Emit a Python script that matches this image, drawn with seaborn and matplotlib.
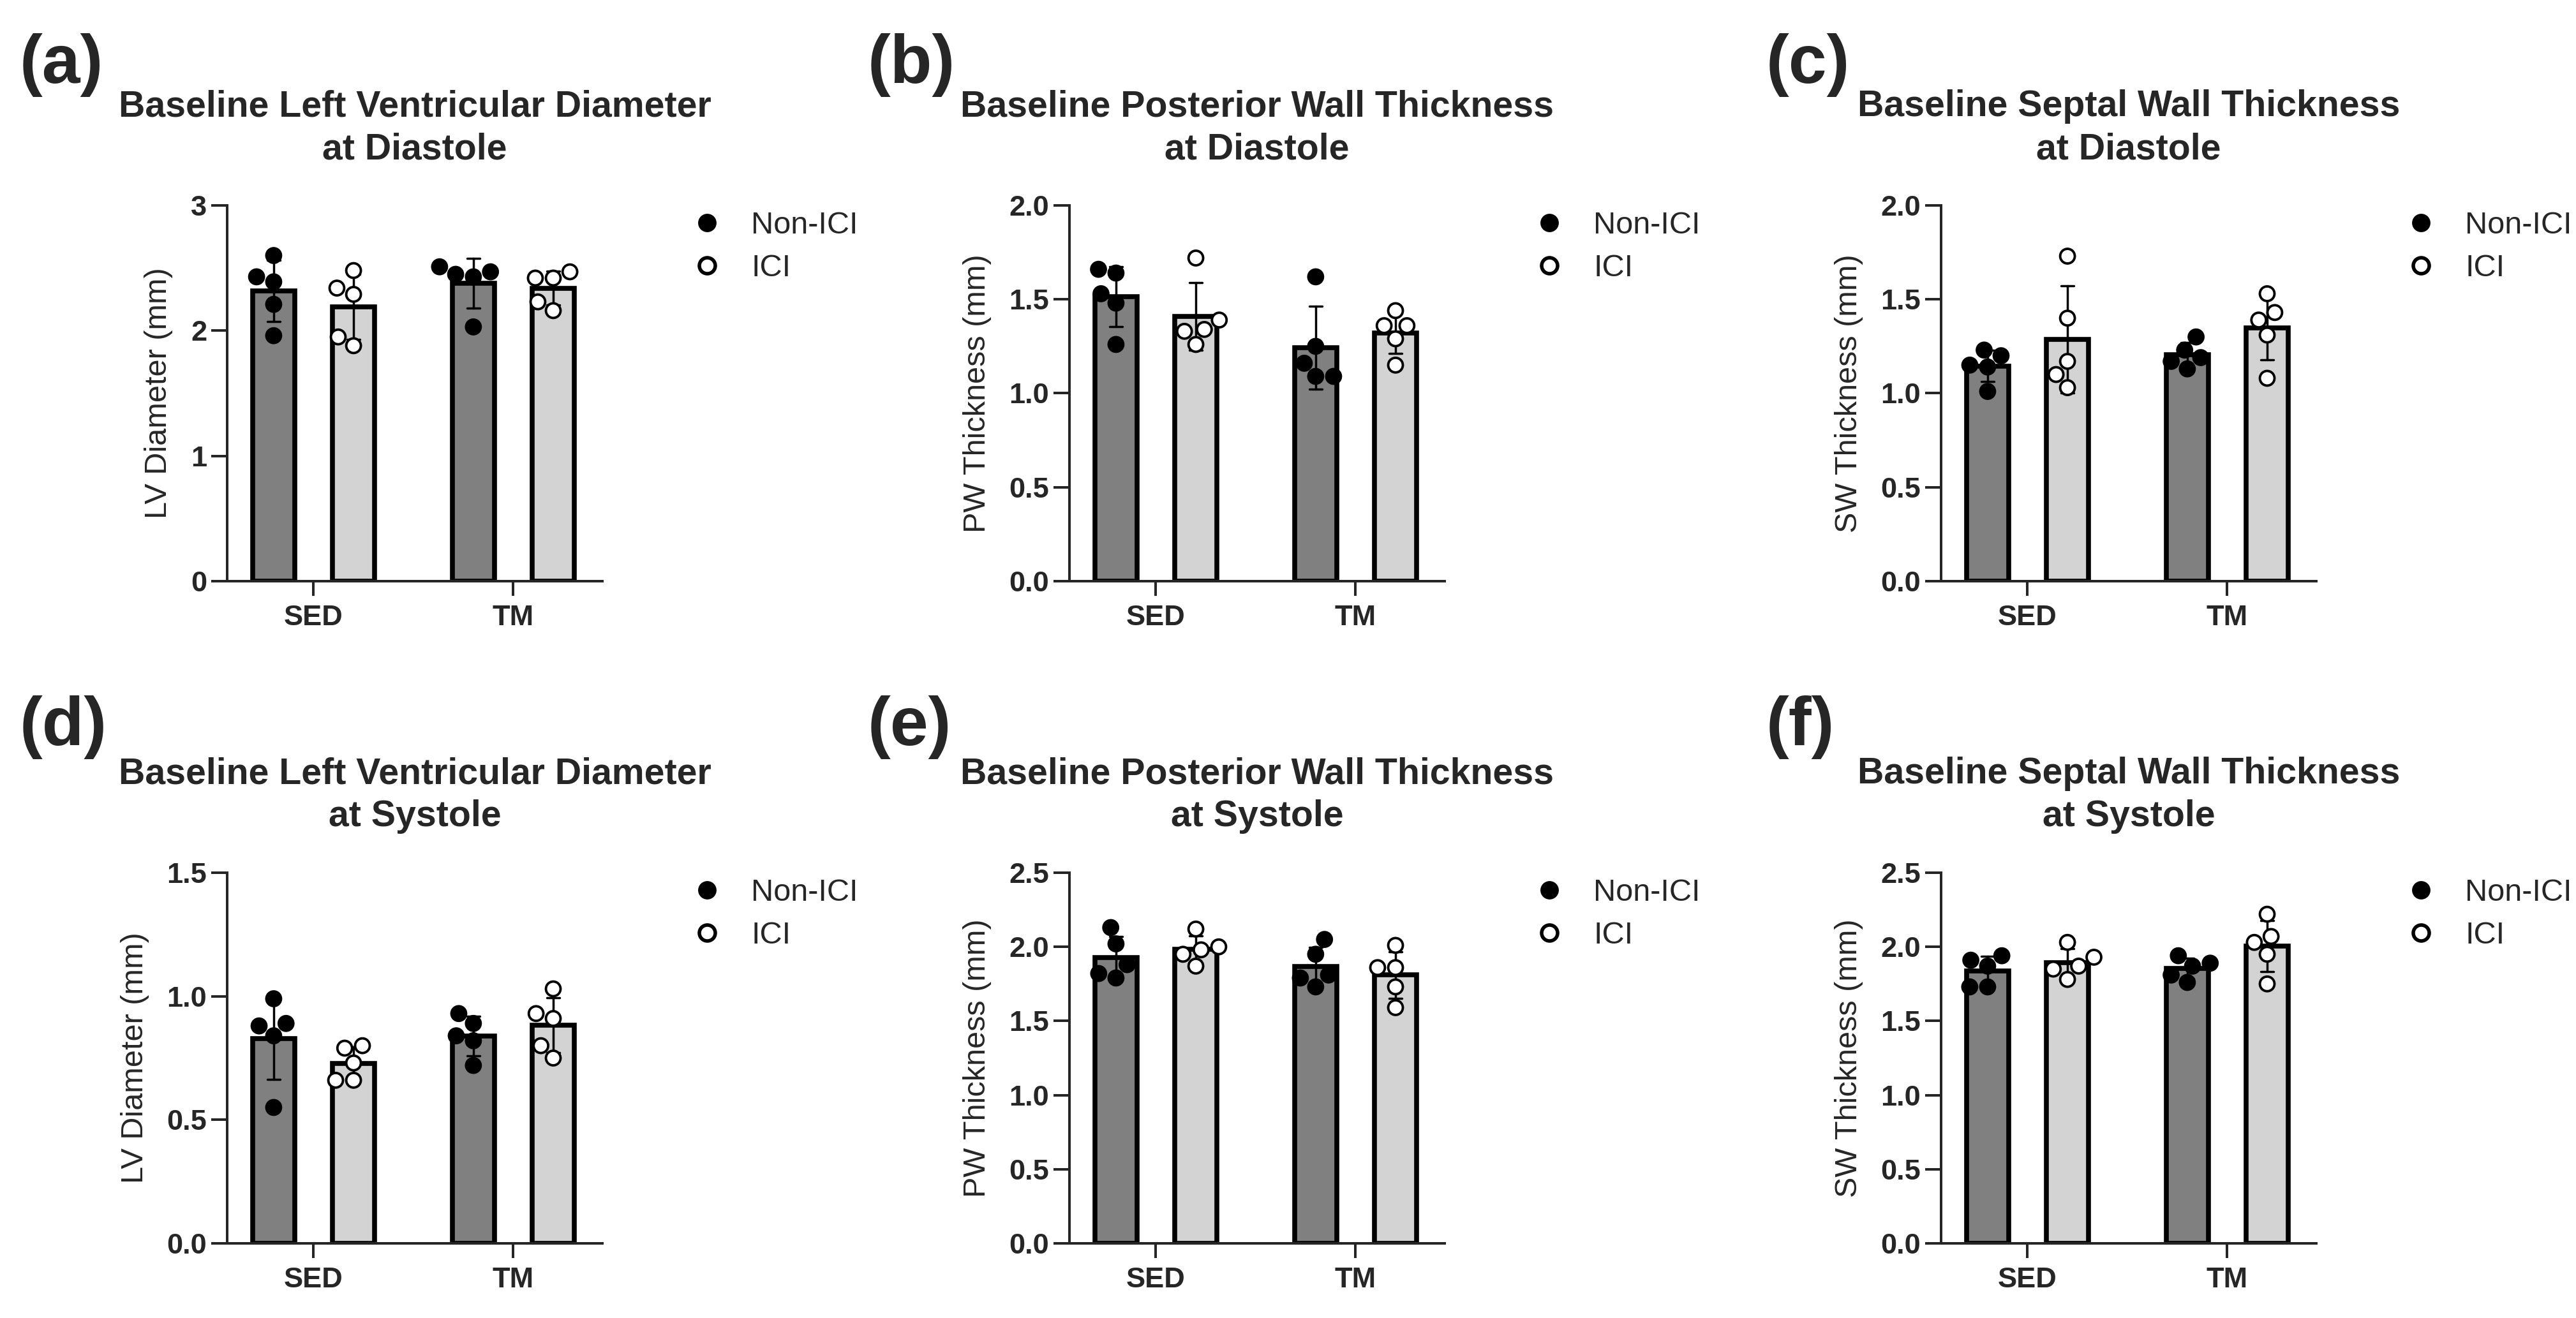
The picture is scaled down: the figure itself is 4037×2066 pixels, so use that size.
import numpy as np
import pandas as pd
import matplotlib
matplotlib.use("Agg")
import matplotlib.pyplot as plt
from matplotlib.lines import Line2D
import seaborn as sns

# ---------------- data ----------------
groups = ["SED", "TM"]
treatments = ["Non-ICI", "ICI"]

a_sed_non = [2.60, 2.43, 2.39, 2.21, 1.96]
a_sed_ici = [2.48, 2.34, 2.29, 1.95, 1.88]
a_tm_non = [2.51, 2.47, 2.45, 2.43, 2.03]
a_tm_ici = [2.47, 2.42, 2.42, 2.23, 2.16]

b_sed_non = [1.66, 1.64, 1.53, 1.48, 1.26]
b_sed_ici = [1.72, 1.39, 1.34, 1.33, 1.26]
b_tm_non = [1.62, 1.25, 1.16, 1.09, 1.09]
b_tm_ici = [1.44, 1.36, 1.36, 1.29, 1.15]

c_sed_non = [1.23, 1.20, 1.15, 1.14, 1.01]
c_sed_ici = [1.73, 1.40, 1.17, 1.10, 1.03]
c_tm_non = [1.30, 1.23, 1.19, 1.17, 1.13]
c_tm_ici = [1.53, 1.43, 1.39, 1.31, 1.08]

d_sed_non = [0.99, 0.89, 0.88, 0.84, 0.55]
d_sed_ici = [0.80, 0.79, 0.73, 0.66, 0.66]
d_tm_non = [0.93, 0.89, 0.84, 0.82, 0.72]
d_tm_ici = [1.03, 0.93, 0.91, 0.80, 0.75]

e_sed_non = [2.13, 2.02, 1.88, 1.82, 1.79]
e_sed_ici = [2.12, 2.00, 1.98, 1.95, 1.87]
e_tm_non = [2.05, 1.95, 1.81, 1.79, 1.73]
e_tm_ici = [2.01, 1.86, 1.86, 1.73, 1.59]

f_sed_non = [1.94, 1.91, 1.87, 1.73, 1.73]
f_sed_ici = [2.03, 1.93, 1.87, 1.85, 1.78]
f_tm_non = [1.94, 1.89, 1.87, 1.81, 1.76]
f_tm_ici = [2.22, 2.07, 2.03, 1.95, 1.75]

panel_letters = ["(a)", "(b)", "(c)", "(d)", "(e)", "(f)"]
titles = [
    "Baseline Left Ventricular Diameter\nat Diastole",
    "Baseline Posterior Wall Thickness\nat Diastole",
    "Baseline Septal Wall Thickness\nat Diastole",
    "Baseline Left Ventricular Diameter\nat Systole",
    "Baseline Posterior Wall Thickness\nat Systole",
    "Baseline Septal Wall Thickness\nat Systole",
]
ylabels = ["LV Diameter (mm)", "PW Thickness (mm)", "SW Thickness (mm)",
           "LV Diameter (mm)", "PW Thickness (mm)", "SW Thickness (mm)"]
ytick_values = [
    [0, 1, 2, 3],
    [0.0, 0.5, 1.0, 1.5, 2.0],
    [0.0, 0.5, 1.0, 1.5, 2.0],
    [0.0, 0.5, 1.0, 1.5],
    [0.0, 0.5, 1.0, 1.5, 2.0, 2.5],
    [0.0, 0.5, 1.0, 1.5, 2.0, 2.5],
]
ytick_labels = [
    ["0", "1", "2", "3"],
    ["0.0", "0.5", "1.0", "1.5", "2.0"],
    ["0.0", "0.5", "1.0", "1.5", "2.0"],
    ["0.0", "0.5", "1.0", "1.5"],
    ["0.0", "0.5", "1.0", "1.5", "2.0", "2.5"],
    ["0.0", "0.5", "1.0", "1.5", "2.0", "2.5"],
]
panel_data = [
    (a_sed_non, a_sed_ici, a_tm_non, a_tm_ici),
    (b_sed_non, b_sed_ici, b_tm_non, b_tm_ici),
    (c_sed_non, c_sed_ici, c_tm_non, c_tm_ici),
    (d_sed_non, d_sed_ici, d_tm_non, d_tm_ici),
    (e_sed_non, e_sed_ici, e_tm_non, e_tm_ici),
    (f_sed_non, f_sed_ici, f_tm_non, f_tm_ici),
]


def make_frame(sed_non, sed_ici, tm_non, tm_ici):
    rows = []
    for grp, trt, vals in [("SED", "Non-ICI", sed_non), ("SED", "ICI", sed_ici),
                           ("TM", "Non-ICI", tm_non), ("TM", "ICI", tm_ici)]:
        for v in vals:
            rows.append({"group": grp, "treatment": trt, "value": v})
    return pd.DataFrame(rows)


# ---------------- style ----------------
sns.set_style("ticks")
plt.rcParams["font.family"] = ["Liberation Sans", "DejaVu Sans"]
plt.rcParams["axes.linewidth"] = 1.15

W, H = 4037, 2066
DPI = 250
fig = plt.figure(figsize=(W / DPI, H / DPI), dpi=DPI)

col_left = [356, 1676, 3042]
ax_w = 588
row_top = [322, 1368]
row_bot = [911, 1949]
letter_x = [31, 1360, 2768]
letter_top = [52, 1090]

bar_pal = {"Non-ICI": "#808080", "ICI": "#d3d3d3"}
pt_pal = {"Non-ICI": "black", "ICI": "white"}

for i in range(6):
    r, c = divmod(i, 3)
    left = col_left[c] / W
    bottom = (H - row_bot[r]) / H
    height = (row_bot[r] - row_top[r]) / H
    ax = fig.add_axes([left, bottom, ax_w / W, height])
    df = make_frame(*panel_data[i])

    sns.barplot(data=df, x="group", y="value", hue="treatment",
                order=groups, hue_order=treatments, palette=bar_pal,
                errorbar="sd", capsize=0.13,
                err_kws={"color": "black", "linewidth": 1.0},
                edgecolor="black", linewidth=2.2, width=0.8, gap=0.47,
                legend=False, ax=ax)
    sns.swarmplot(data=df, x="group", y="value", hue="treatment",
                  order=groups, hue_order=treatments, dodge=True,
                  palette=pt_pal, edgecolor="black", linewidth=1.1,
                  size=6.6, legend=False, ax=ax, zorder=4)

    ax.set_xlim(-0.433, 1.446)
    yt = ytick_values[i]
    ax.set_ylim(0, yt[-1])
    ax.set_yticks(yt)
    ax.set_yticklabels(ytick_labels[i], fontsize=13, fontweight="bold")
    ax.set_xticks([0, 1])
    ax.set_xticklabels(groups, fontsize=13, fontweight="bold")
    ax.tick_params(axis="y", length=7.2, width=1.15, pad=2)
    ax.tick_params(axis="x", length=6.6, width=1.15, pad=4)
    ax.set_xlabel("")
    ax.set_ylabel(ylabels[i], fontsize=14, labelpad=8)
    ax.set_title(titles[i], fontsize=16.5, fontweight="bold", pad=21,
                 linespacing=1.3)
    sns.despine(ax=ax)

    handles = [
        Line2D([], [], marker="o", linestyle="", markersize=7.2,
               markerfacecolor="black", markeredgecolor="black",
               markeredgewidth=1.1),
        Line2D([], [], marker="o", linestyle="", markersize=7.2,
               markerfacecolor="white", markeredgecolor="black",
               markeredgewidth=1.6),
    ]
    ax.legend(handles, treatments, loc="upper left",
              bbox_to_anchor=(1.237, 0.985), frameon=False, borderpad=0,
              borderaxespad=0, handlelength=1.0, handletextpad=0.93,
              labelspacing=0.46, fontsize=14)

    fig.text(letter_x[c] / W, 1 - letter_top[r] / H, panel_letters[i],
             fontsize=31, fontweight="bold", va="top", ha="left")

fig.savefig("out.png", dpi=DPI)
